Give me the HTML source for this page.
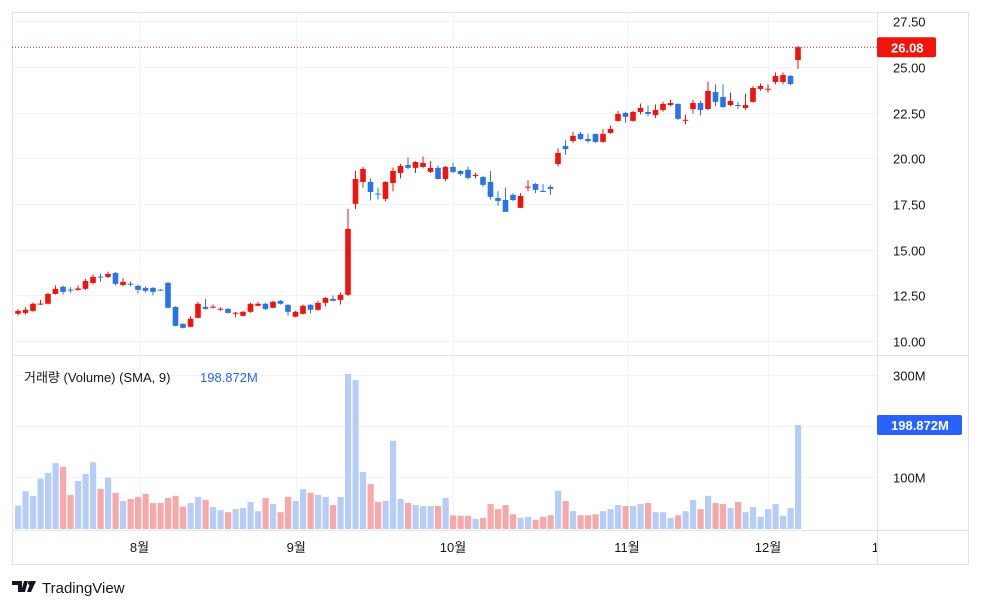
<!DOCTYPE html>
<html><head><meta charset="utf-8">
<style>
html,body{margin:0;padding:0;background:#fff;}
body{width:981px;height:609px;overflow:hidden;font-family:"Liberation Sans","Noto Sans CJK KR",sans-serif;}
svg{position:absolute;left:0;top:0;}
</style></head>
<body>
<svg id="chart" width="981" height="609" xmlns="http://www.w3.org/2000/svg">
  <defs><clipPath id="plotclip"><rect x="13" y="13" width="864" height="517"/></clipPath>
  <clipPath id="timeclip"><rect x="13" y="531" width="864" height="34"/></clipPath></defs>
  <g id="grid"></g>
  <g id="candles" clip-path="url(#plotclip)"></g>
  <g id="volume" clip-path="url(#plotclip)"></g>
  <g id="axes"></g>
  <g id="timeaxis" clip-path="url(#timeclip)"></g>
  <text x="24" y="382" font-size="13" fill="#131722">거래량 (Volume) (SMA, 9)</text>
  <text x="200" y="382" font-size="13" fill="#2962ff">198.872M</text>
  <g>
    <path d="M12 581h10v11h-4v-7h-6z M24 581h4l-3 11h-4z" fill="#131722"/>
    <circle cx="30" cy="583" r="2" fill="#131722"/>
    <path d="M31 581h5l-5 11h-4z" fill="#131722"/>
    <text x="42" y="593" font-size="15" fill="#131722">TradingView</text>
  </g>
</svg>
<script>
const opens=[11.49,11.54,11.65,12.02,12.04,12.58,12.97,12.82,12.80,12.86,13.18,13.53,13.51,13.73,13.07,13.14,13.02,12.91,12.91,12.81,13.18,11.87,10.94,10.78,11.27,11.87,11.86,11.75,11.76,11.53,11.38,11.60,11.93,12.04,11.82,12.20,11.98,11.33,11.49,11.98,11.71,12.09,12.31,12.25,12.53,17.51,18.71,18.71,18.07,17.78,18.65,19.20,19.64,19.48,19.53,19.26,19.48,18.87,19.53,19.31,19.37,19.04,18.98,18.71,17.83,17.72,18.00,17.29,18.43,18.60,18.22,18.44,19.69,20.68,20.95,21.34,21.06,21.34,20.90,21.39,22.05,22.48,22.05,22.54,22.54,22.37,22.65,22.92,22.98,22.09,22.70,23.03,22.70,23.63,23.36,22.92,22.92,22.76,23.09,23.80,23.79,24.18,24.18,24.51,25.38];
const highs=[11.75,11.85,12.10,12.25,12.65,13.05,13.05,12.95,13.05,13.40,13.65,13.70,13.80,13.78,13.45,13.25,13.10,12.98,12.95,12.85,13.25,11.90,10.97,11.35,12.15,12.30,12.00,11.85,11.80,11.60,11.65,12.10,12.15,12.08,12.20,12.25,12.02,11.65,12.00,12.02,12.20,12.40,12.50,12.65,17.23,19.31,19.53,18.90,18.40,18.75,19.50,19.70,20.05,19.85,20.10,19.85,19.60,19.58,19.75,19.35,19.55,19.20,19.05,19.30,18.20,18.40,18.10,18.10,18.80,18.65,18.60,18.55,20.55,21.00,21.45,21.45,21.35,21.35,21.60,21.80,22.60,22.55,22.60,23.00,22.90,22.95,23.10,23.20,23.00,22.40,23.20,23.15,24.20,24.05,24.05,23.60,23.10,23.55,23.95,24.10,24.05,24.70,24.70,24.56,26.15];
const lows=[11.40,11.45,11.60,11.98,12.00,12.55,12.55,12.65,12.75,12.80,13.10,13.25,13.45,13.05,13.00,13.00,12.60,12.65,12.50,12.79,11.78,10.80,10.70,10.75,11.25,11.72,11.78,11.65,11.50,11.30,11.35,11.55,11.90,11.70,11.80,12.00,11.40,11.30,11.45,11.50,11.65,11.90,12.18,12.00,12.45,17.23,18.40,17.70,17.75,17.65,18.20,18.90,19.40,19.20,19.45,19.20,18.85,18.75,19.20,19.05,18.85,18.90,18.45,17.75,17.40,17.07,17.65,17.29,18.20,18.10,18.15,18.00,19.55,20.20,20.85,21.00,20.85,20.85,20.85,21.35,22.00,21.95,22.00,22.40,22.30,22.20,22.55,22.85,22.10,21.85,22.45,22.35,22.65,22.85,22.75,22.85,22.70,22.65,23.05,23.70,23.60,24.05,24.05,24.00,24.90];
const closes=[11.65,11.71,12.04,12.05,12.58,12.86,12.69,12.80,12.88,13.29,13.51,13.50,13.68,13.13,13.24,13.12,12.80,12.75,12.69,12.79,11.82,10.83,10.72,11.22,12.04,11.76,11.88,11.77,11.54,11.55,11.60,12.04,12.04,11.76,12.15,12.04,11.60,11.60,11.93,11.71,12.09,12.36,12.20,12.53,16.14,18.87,19.42,18.16,18.04,18.71,19.31,19.58,19.48,19.80,19.75,19.48,18.87,19.53,19.26,19.15,18.93,19.09,18.55,17.89,17.67,17.07,17.72,17.94,18.45,18.27,18.16,18.33,20.30,20.51,21.23,21.06,20.95,20.90,21.34,21.61,22.43,22.27,22.54,22.76,22.43,22.65,22.98,23.03,22.16,22.11,23.03,22.65,23.69,23.09,22.81,23.14,22.87,22.92,23.85,23.96,23.81,24.51,24.56,24.07,26.08];
const volumes=[44,72,63,97,108,127,120,65,92,106,129,77,99,69,53,57,61,67,49,49,59,63,42,49,61,55,41,35,31,37,39,51,33,59,47,31,61,53,76,69,65,61,45,61,302,290,110,86,51,53,171,57,49,45,43,43,43,59,25,24,24,18,20,47,37,45,27,20,22,16,22,25,73,53,33,25,25,27,33,37,45,43,43,47,49,31,31,20,25,33,55,37,63,49,47,39,51,31,41,22,37,47,24,39,202];
const volUp=[0,0,0,0,0,0,1,1,0,0,0,1,0,1,0,1,1,1,1,1,1,1,1,0,0,1,0,0,1,0,0,0,0,1,0,1,1,0,0,1,0,0,1,0,0,0,0,1,1,0,0,0,1,0,0,0,1,0,1,1,1,0,1,1,1,1,1,0,0,1,1,1,0,1,0,1,1,1,0,0,0,1,0,0,1,0,0,0,1,0,0,1,0,1,1,0,1,0,0,0,0,0,0,0,0];
const priceTicks=[27.5,25,22.5,20,17.5,15,12.5,10];
const volTicks=[300,100];
const monthLabels=["8월","9월","10월","11월","12월","19"];
const monthIdx=[16.2,37.1,58.0,81.2,100,114.8];
const lastPrice=26.08, lastVolLabel="198.872M";

const NS="http://www.w3.org/2000/svg";
const xOf=i=>18+i*7.5;
const yP=p=>67+(25-p)*18.27;
const yV=v=>528-v*0.51;
function mk(tag,attrs,parent,text){const e=document.createElementNS(NS,tag);for(const k in attrs)e.setAttribute(k,attrs[k]);if(text!==undefined)e.textContent=text;parent.appendChild(e);return e;}
const grid=document.getElementById('grid'),cg=document.getElementById('candles'),vg=document.getElementById('volume'),ax=document.getElementById('axes'),tax=document.getElementById('timeaxis');

let f=mk('rect',{x:12.5,y:12.5,width:956,height:552,fill:'none',stroke:'#e0e3eb'},ax);


mk('line',{x1:877.5,y1:12,x2:877.5,y2:565,stroke:'#e0e3eb'},ax);
mk('line',{x1:12,y1:355.5,x2:969,y2:355.5,stroke:'#e0e3eb'},ax);
mk('line',{x1:12,y1:530.5,x2:969,y2:530.5,stroke:'#e0e3eb'},ax);

priceTicks.forEach(p=>{
  const y=Math.round(yP(p))+0.5;
  mk('line',{x1:12,y1:y,x2:877,y2:y,stroke:'#f0f3fa'},grid);
  const t=mk('text',{x:893,y:y+5,'font-size':13,fill:'#131722'},ax,p.toFixed(2));
  
  
});
volTicks.concat([200]).forEach(v=>{
  const y=Math.round(yV(v))+0.5;
  mk('line',{x1:12,y1:y,x2:877,y2:y,stroke:'#f0f3fa'},grid);
});
volTicks.forEach(v=>{
  const y=Math.round(yV(v))+0.5;
  const t=mk('text',{x:893,y:y+5,'font-size':13,fill:'#131722'},ax,v+'M');
  
  
});
monthLabels.forEach((m,k)=>{
  const x=xOf(monthIdx[k]);
  if(k<5) mk('line',{x1:Math.round(x)+0.5,y1:13,x2:Math.round(x)+0.5,y2:530,stroke:'#f0f3fa'},grid);
  const t=mk('text',{x:x,y:552,'font-size':13,fill:'#131722','text-anchor':'middle'},tax,m);
  
  
});

closes.forEach((c,i)=>{
  const o=opens[i],up=c>=o,col=up?'#f0140f':'#2a74e8',x=xOf(i);
  const w=mk('line',{x1:x,x2:x,y1:yP(highs[i]),y2:yP(lows[i]),stroke:col,'stroke-width':1},cg);
  
  
  const top=yP(Math.max(o,c)),bot=yP(Math.min(o,c));
  const b=mk('rect',{x:x-2.8,y:top,width:5.6,height:Math.max(1,bot-top),fill:col},cg);
  
  
});
volumes.forEach((v,i)=>{
  const x=xOf(i),col=volUp[i]?'#f7a9a9':'#b5cdf7';
  const r=mk('rect',{x:x-3,y:yV(v),width:6.2,height:528-yV(v)+1,fill:col},vg);
  
  
});

const ly=yP(lastPrice);
const pl=mk('line',{x1:12,y1:ly,x2:877,y2:ly,stroke:'#f0140f','stroke-dasharray':'1 2'},ax);


const pb=mk('rect',{x:877,y:ly-10,width:59,height:20,fill:'#f0140f',rx:2},ax);


mk('text',{x:891,y:ly+5,'font-size':13,'font-weight':'bold',fill:'#fff'},ax,lastPrice.toFixed(2));
const vy=yV(volumes[volumes.length-1]);
const vb=mk('rect',{x:877,y:vy-10,width:85,height:20,fill:'#2962ff',rx:2},ax);


mk('text',{x:891,y:vy+5,'font-size':13,'font-weight':'bold',fill:'#fff'},ax,lastVolLabel);
</script>
</body></html>
